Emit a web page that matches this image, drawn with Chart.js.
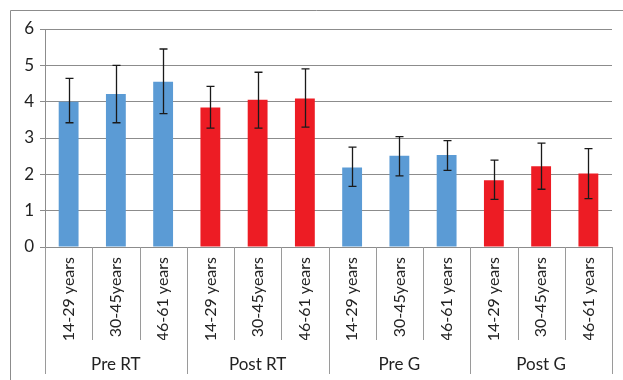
<!DOCTYPE html>
<html>
<head>
<meta charset="utf-8">
<script src="https://cdn.jsdelivr.net/npm/chart.js@4/dist/chart.umd.min.js"></script>
<style>
  html, body { margin: 0; padding: 0; background: #fff; }
  #wrap { width: 623px; height: 380px; position: relative; }
</style>
</head>
<body>
<div id="wrap"><canvas id="chart"></canvas></div>
<script>
// values
var ageLabels = ['14-29 years', '30-45years', '46-61 years',
                 '14-29 years', '30-45years', '46-61 years',
                 '14-29 years', '30-45years', '46-61 years',
                 '14-29 years', '30-45years', '46-61 years'];
var groupLabels = ['Pre RT', 'Post RT', 'Pre G', 'Post G'];
var means = [4.0, 4.21, 4.55, 3.84, 4.05, 4.09, 2.19, 2.51, 2.53, 1.84, 2.22, 2.02];
var errUpper = [4.64, 5.0, 5.45, 4.42, 4.81, 4.9, 2.75, 3.04, 2.93, 2.39, 2.86, 2.71];
var errLower = [3.42, 3.42, 3.67, 3.27, 3.27, 3.3, 1.67, 1.96, 2.11, 1.31, 1.59, 1.33];
var yTicks = [0, 1, 2, 3, 4, 5, 6];

var blue = '#5B9BD5';
var red = '#ED1C24';
var barColors = [blue, blue, blue, red, red, red, blue, blue, blue, red, red, red];

var fontFamily = 'Lato, "Open Sans", sans-serif';

// outer frame (left + top only, like the cropped reference)
var framePlugin = {
  id: 'frame',
  beforeDraw: function(chart) {
    var ctx = chart.ctx;
    ctx.save();
    ctx.strokeStyle = '#8c8c8c';
    ctx.lineWidth = 1;
    ctx.beginPath();
    ctx.moveTo(10.5, 380);
    ctx.lineTo(10.5, 10.5);
    ctx.lineTo(623, 10.5);
    ctx.stroke();
    ctx.restore();
  }
};

// category dividers below the axis
var dividerPlugin = {
  id: 'dividers',
  afterDraw: function(chart) {
    var x = chart.scales.x;
    var area = chart.chartArea;
    var ctx = chart.ctx;
    var step = (x.right - x.left) / ageLabels.length;
    ctx.save();
    ctx.strokeStyle = '#9a9a9a';
    ctx.lineWidth = 1;
    for (var i = 0; i <= ageLabels.length; i++) {
      var px = Math.round(x.left + i * step) + 0.5;
      var bottom = (i % 3 === 0) ? 374 : 340;
      ctx.beginPath();
      ctx.moveTo(px, area.bottom);
      ctx.lineTo(px, bottom);
      ctx.stroke();
    }
    ctx.restore();
  }
};

// error bars
var errorPlugin = {
  id: 'errorBars',
  afterDatasetsDraw: function(chart) {
    var y = chart.scales.y;
    var meta = chart.getDatasetMeta(0);
    var ctx = chart.ctx;
    ctx.save();
    ctx.strokeStyle = '#1a1a1a';
    ctx.lineWidth = 1.3;
    meta.data.forEach(function(bar, i) {
      var px = Math.round(bar.x) + 0.5;
      var top = y.getPixelForValue(errUpper[i]);
      var bot = y.getPixelForValue(errLower[i]);
      ctx.beginPath();
      ctx.moveTo(px, top);
      ctx.lineTo(px, bot);
      ctx.moveTo(px - 4, top);
      ctx.lineTo(px + 4, top);
      ctx.moveTo(px - 4, bot);
      ctx.lineTo(px + 4, bot);
      ctx.stroke();
    });
    ctx.restore();
  }
};

var ctx = document.getElementById('chart').getContext('2d');
var chart = new Chart(ctx, {
  type: 'bar',
  data: {
    labels: ageLabels,
    datasets: [{
      data: means,
      backgroundColor: barColors,
      borderWidth: 0,
      categoryPercentage: 1,
      barPercentage: 0.42
    }]
  },
  options: {
    responsive: true,
    maintainAspectRatio: false,
    animation: false,
    layout: {
      padding: { top: 29, right: 11, bottom: 5, left: 10 }
    },
    plugins: {
      legend: { display: false },
      tooltip: { enabled: false }
    },
    scales: {
      y: {
        min: 0,
        max: 6,
        afterBuildTicks: function(scale) {
          scale.ticks = yTicks.map(function(v) { return { value: v }; });
        },
        afterFit: function(scale) { scale.width = 35; },
        border: { display: true, color: '#8c8c8c' },
        grid: { color: '#8c8c8c', tickLength: 5 },
        ticks: {
          color: '#222',
          padding: 6,
          font: { family: fontFamily, size: 17 }
        }
      },
      x: {
        afterFit: function(scale) { scale.height = 93; },
        border: { display: false },
        grid: { display: false, drawTicks: false },
        ticks: {
          minRotation: 90,
          maxRotation: 90,
          autoSkip: false,
          padding: 10,
          color: '#222',
          font: { family: fontFamily, size: 16 }
        }
      },
      x2: {
        type: 'category',
        position: 'bottom',
        labels: groupLabels,
        offset: true,
        afterFit: function(scale) { scale.height = 35; },
        border: { display: false },
        grid: { display: false, drawTicks: false },
        ticks: {
          padding: 14,
          color: '#222',
          font: { family: fontFamily, size: 17 }
        }
      }
    }
  },
  plugins: [framePlugin, dividerPlugin, errorPlugin]
});
</script>
</body>
</html>
